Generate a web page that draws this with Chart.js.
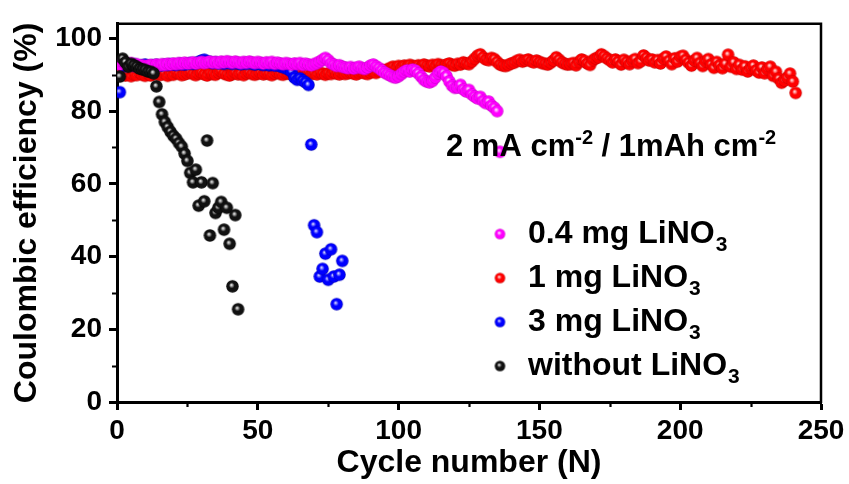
<!DOCTYPE html>
<html>
<head>
<meta charset="utf-8">
<script src="https://cdn.jsdelivr.net/npm/chart.js@4/dist/chart.umd.min.js"></script>
<style>
  html, body { margin: 0; padding: 0; background: #ffffff; }
  canvas { display: block; }
</style>
</head>
<body>
<canvas id="ce" width="849" height="484"></canvas>
<script>
// Axis ticks
const xTicks = [0, 50, 100, 150, 200, 250];
const yTicks = [0, 20, 40, 60, 80, 100];
const xMinor = [25, 75, 125, 175, 225];
const yMinor = [10, 30, 50, 70, 90];

// Series labels (text, subscript)
const seriesNames = ['0.4 mg LiNO', '1 mg LiNO', '3 mg LiNO', 'without LiNO'];

// Coulombic efficiency (%), one value per cycle, starting at cycle 1
const ce04mg = [
  92.8, 93.6, 93.0, 92.6, 93.2, 92.4, 92.9, 92.2, 92.6, 92.3,
  92.5, 92.7, 92.4, 92.8, 92.6, 92.9, 92.7, 93.0, 92.8, 93.1,
  92.9, 93.2, 93.0, 93.3, 93.1, 93.2, 93.4, 93.1, 93.3, 93.5,
  93.2, 93.4, 93.6, 93.3, 93.5, 93.2, 93.6, 93.4, 93.7, 93.5,
  93.3, 93.6, 93.4, 93.2, 93.5, 93.3, 93.6, 93.4, 93.2, 93.5,
  93.3, 93.1, 93.4, 93.2, 93.5, 93.0, 93.3, 93.1, 92.9, 93.2,
  93.0, 92.8, 93.1, 92.9, 93.2, 92.7, 93.0, 92.8, 92.6, 92.9,
  93.2, 93.6, 94.1, 94.6, 94.0, 93.2, 92.8, 92.4, 92.6, 92.2,
  92.0, 91.8, 92.1, 91.7, 91.9, 92.2, 91.8, 91.6, 92.0, 92.5,
  92.8, 92.3, 91.8, 91.2, 90.6, 90.2, 89.8, 89.4, 89.2, 89.6,
  90.2, 90.8, 91.2, 90.9, 91.4, 91.1, 90.4, 89.5, 88.6, 88.1,
  87.9, 88.3, 89.2, 90.3, 90.9, 90.5, 89.6, 88.2, 87.0, 86.4,
  86.5, 87.2, 86.0, 85.4, 85.8, 84.6, 84.0, 83.5, 83.9, 82.8,
  82.2, 82.6, 81.5, 80.9, 80.0, 68.8
];

const ce1mg = [
  90.5, 90.2, 89.8, 90.4, 89.6, 90.1, 89.9, 90.6, 90.0, 89.7,
  90.3, 89.8, 90.2, 90.5, 89.9, 90.1, 90.4, 89.7, 90.2, 90.0,
  90.6, 90.3, 89.9, 90.1, 90.4, 90.7, 90.2, 89.9, 90.3, 90.5,
  90.1, 89.8, 90.4, 90.2, 90.0, 90.6, 90.9, 90.3, 90.0, 89.8,
  90.2, 90.5, 90.1, 90.3, 89.9, 90.4, 90.6, 90.2, 90.0, 90.3,
  90.5, 90.1, 90.4, 90.2, 89.9, 90.3, 90.6, 90.2, 90.0, 90.4,
  90.3, 90.1, 90.5, 90.2, 90.4, 90.0, 90.3, 90.6, 90.2, 90.4,
  90.1, 90.5, 90.3, 90.0, 90.4, 90.2, 90.6, 90.3, 90.1, 90.5,
  90.2, 90.4, 90.6, 90.3, 90.1, 90.5, 90.7, 90.4, 90.2, 90.6,
  90.8, 90.5, 91.0, 91.3, 91.1, 91.5, 91.8, 92.2, 91.9, 92.4,
  92.1, 92.5, 92.3, 92.7, 92.4, 92.2, 92.6, 92.3, 92.8, 92.5,
  92.3, 92.7, 92.4, 92.9, 92.6, 92.4, 92.8, 93.1, 92.7, 92.5,
  93.0, 92.8, 93.4, 93.1, 92.9, 93.6, 94.4, 95.2, 95.6, 94.8,
  94.2, 94.0, 94.6, 94.3, 93.5, 92.8, 92.5, 92.4, 92.7, 93.1,
  93.3, 93.8, 94.1, 93.6, 93.9, 94.2, 93.7, 93.4, 93.9, 93.5,
  93.2, 93.0, 92.8, 93.3, 93.9, 94.8, 94.1, 93.4, 93.0, 92.8,
  92.9, 93.2, 92.6, 93.5, 94.2, 93.8, 93.1, 92.7, 94.0, 94.5,
  94.8, 95.6, 95.1, 94.5, 94.0, 93.4, 94.2, 93.6, 92.8, 94.1,
  93.5, 92.9, 93.8, 94.3, 93.2, 93.7, 95.3, 94.6, 93.9, 94.2,
  93.4, 94.0, 93.1, 94.4, 95.0, 93.8, 92.9, 94.5, 93.6, 94.9,
  95.2, 94.1, 93.3, 92.5, 93.9, 94.6, 93.2, 92.4, 93.7, 94.3,
  92.8, 91.9, 93.5, 92.6, 91.8, 93.0, 95.5, 92.2, 93.4, 91.6,
  92.7, 91.4, 92.3, 90.9, 91.8, 92.5, 91.2, 90.6, 92.0, 90.4,
  91.5, 92.2, 89.7, 90.8, 88.9, 87.8, 88.4, 89.2, 90.3, 88.1,
  85.0
];

const ce3mg = [
  85.2, 92.6, 92.4, 92.5, 92.7, 92.9, 92.6, 92.3, 92.6, 92.8,
  92.5, 92.4, 92.6, 92.7, 92.5, 92.6, 92.8, 92.7, 92.9, 92.8,
  92.7, 93.0, 92.9, 92.8, 93.0, 93.2, 93.0, 93.2, 93.5, 93.9,
  94.1, 93.7, 93.5, 93.2, 93.4, 93.1, 93.3, 93.0, 93.4, 93.2,
  93.0, 93.3, 93.1, 92.9, 93.2, 93.0, 93.3, 93.0, 92.8, 93.1,
  92.9, 92.7, 92.9, 92.6, 92.8, 92.5, 92.7, 92.3, 92.1, 91.8,
  91.4, 90.8, 89.2, 88.6, 89.0, 88.4, 87.9, 87.2, 70.8, 48.6,
  46.7, 34.5, 36.6, 40.8, 33.6, 42.0, 34.5, 26.9, 35.0, 38.8
];

const ceNone = [
  89.5, 94.4, 93.4, 92.2, 93.0, 92.6, 92.2, 91.7, 91.5, 91.3,
  90.9, 90.8, 90.4, 86.8, 82.5, 79.1, 77.0, 75.6, 74.3, 73.2,
  72.4, 71.2, 70.2, 68.3, 66.3, 63.0, 60.4, 63.9, 54.0, 60.4,
  55.2, 71.9, 45.8, 60.2, 52.0, 53.4, 55.0, 47.4, 53.4, 43.5,
  31.8, 51.4, 25.5
];

const FONT = '"Liberation Sans", Arial, Helvetica, sans-serif';

// Shaded "ball" marker drawn into a small canvas
function ballMarker(diam, base, light, dark) {
  const c = document.createElement('canvas');
  const s = Math.ceil(diam) + 2;
  c.width = s; c.height = s;
  const g = c.getContext('2d');
  const cx = s / 2, cy = s / 2, r = diam / 2;
  const grad = g.createRadialGradient(cx - r * 0.2, cy - r * 0.25, 0, cx, cy, r);
  grad.addColorStop(0.0, '#ffffff');
  grad.addColorStop(0.2, light);
  grad.addColorStop(0.45, base);
  grad.addColorStop(0.85, base);
  grad.addColorStop(1.0, dark);
  g.beginPath();
  g.arc(cx, cy, r, 0, Math.PI * 2);
  g.fillStyle = grad;
  g.fill();
  return c;
}

const palette = [
  { base: '#ff00ff', light: '#ff99ff', dark: '#c000c0' },
  { base: '#ff0000', light: '#ff9090', dark: '#c00000' },
  { base: '#0000ff', light: '#8080ff', dark: '#0000b0' },
  { base: '#111111', light: '#a0a0a0', dark: '#000000' }
];

const plotMarkers = palette.map(p => ballMarker(12.5, p.base, p.light, p.dark));
const legendMarkers = palette.map(p => ballMarker(10.5, p.base, p.light, p.dark));

const toPoints = (arr) => arr.map((v, i) => ({ x: i + 1, y: v }));

// Frame, minor ticks, legend and condition label
const decorations = {
  id: 'decorations',
  afterDraw(chart) {
    const ctx = chart.ctx;
    const a = chart.chartArea;
    const xs = chart.scales.x, ys = chart.scales.y;
    ctx.save();
    ctx.strokeStyle = '#000';
    // top and right frame
    ctx.lineWidth = 2.5;
    ctx.beginPath();
    ctx.moveTo(a.left, a.top);
    ctx.lineTo(a.right, a.top);
    ctx.lineTo(a.right, a.bottom + 1);
    ctx.stroke();
    // minor ticks
    ctx.lineWidth = 2.2;
    ctx.beginPath();
    yMinor.forEach(v => {
      const py = Math.round(ys.getPixelForValue(v)) + 0.5;
      ctx.moveTo(a.left - 5, py);
      ctx.lineTo(a.left, py);
    });
    xMinor.forEach(v => {
      const px = Math.round(xs.getPixelForValue(v)) + 0.5;
      ctx.moveTo(px, a.bottom);
      ctx.lineTo(px, a.bottom + 5);
    });
    ctx.stroke();

    // legend
    ctx.fillStyle = '#000';
    ctx.textBaseline = 'alphabetic';
    ctx.textAlign = 'left';
    const rows = [243, 287, 331, 375];
    seriesNames.forEach((name, i) => {
      const m = legendMarkers[i];
      ctx.drawImage(m, 500 - m.width / 2, rows[i] - 9 - m.height / 2);
      ctx.font = 'bold 32px ' + FONT;
      ctx.fillText(name, 528, rows[i]);
      const w = ctx.measureText(name).width;
      ctx.font = 'bold 21px ' + FONT;
      ctx.fillText('3', 529 + w, rows[i] + 8);
    });

    // current density / capacity label
    let x = 446;
    const base = 156;
    const parts = [
      ['2 mA cm', false], ['-2', true], [' / 1mAh cm', false], ['-2', true]
    ];
    parts.forEach(([t, sup]) => {
      ctx.font = sup ? 'bold 20px ' + FONT : 'bold 31px ' + FONT;
      ctx.fillText(t, x, sup ? base - 12 : base);
      x += ctx.measureText(t).width;
    });
    ctx.restore();
  }
};

const tickFont = { family: FONT, size: 28, weight: 'bold' };

new Chart(document.getElementById('ce'), {
  type: 'scatter',
  data: {
    datasets: [
      { label: seriesNames[3] + '3', data: toPoints(ceNone), pointStyle: plotMarkers[3], order: 0 },
      { label: seriesNames[0] + '3', data: toPoints(ce04mg), pointStyle: plotMarkers[0], order: 1 },
      { label: seriesNames[2] + '3', data: toPoints(ce3mg), pointStyle: plotMarkers[2], order: 2 },
      { label: seriesNames[1] + '3', data: toPoints(ce1mg), pointStyle: plotMarkers[1], order: 3 }
    ]
  },
  options: {
    responsive: false,
    animation: false,
    devicePixelRatio: 1,
    layout: { padding: { left: 0, top: 17, right: 28, bottom: 0 } },
    plugins: { legend: { display: false }, tooltip: { enabled: false } },
    scales: {
      x: {
        type: 'linear', min: 0, max: 250,
        afterBuildTicks: (s) => { s.ticks = xTicks.map(v => ({ value: v })); },
        afterFit: (s) => { s.height = 82; },
        ticks: { font: tickFont, color: '#000', padding: 4, maxRotation: 0 },
        grid: { drawOnChartArea: false, drawTicks: true, tickLength: 8, tickWidth: 3, tickColor: '#000' },
        border: { display: true, width: 3, color: '#000' },
        title: { display: true, text: 'Cycle number (N)', color: '#000',
                 font: { family: FONT, size: 32, weight: 'bold' }, padding: { top: 0, bottom: 2 } }
      },
      y: {
        type: 'linear', min: 0, max: 104,
        afterBuildTicks: (s) => { s.ticks = yTicks.map(v => ({ value: v })); },
        afterFit: (s) => { s.width = 117; },
        ticks: { font: tickFont, color: '#000', padding: 7 },
        grid: { drawOnChartArea: false, drawTicks: true, tickLength: 8, tickWidth: 3, tickColor: '#000' },
        border: { display: true, width: 3, color: '#000' },
        title: { display: true, text: 'Coulombic efficiency (%)', color: '#000',
                 font: { family: FONT, size: 32, weight: 'bold' }, padding: { top: 8, bottom: 0 } }
      }
    }
  },
  plugins: [decorations]
});
</script>
</body>
</html>
